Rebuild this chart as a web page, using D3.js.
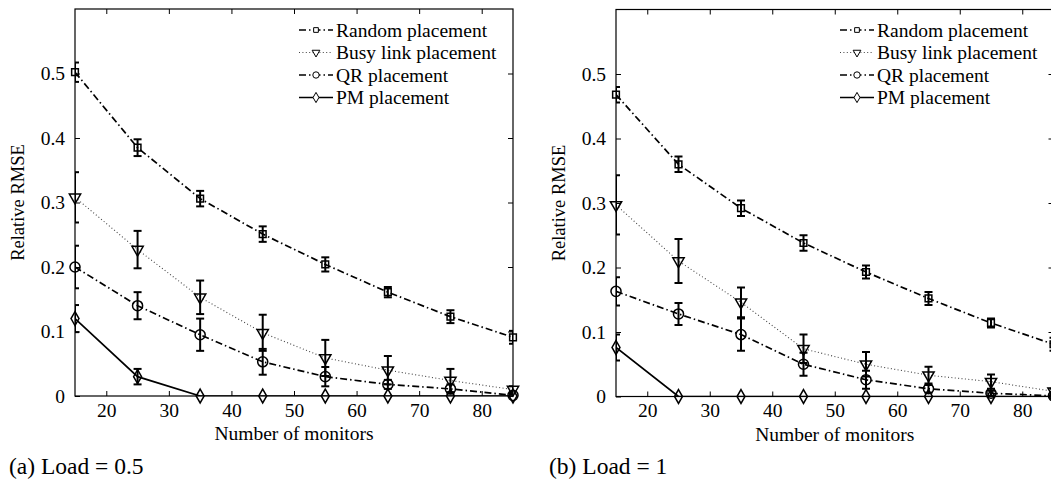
<!doctype html>
<html>
<head>
<meta charset="utf-8">
<style>
    body { margin: 0; background: #fff; }
    svg { display: block; }
    text { font-family: 'Liberation Serif', 'Times New Roman', serif; fill: #000; }
    .tick text { font-size: 19.5px; }
    .axis-label { font-size: 19.5px; }
    .axis-label.ylab { font-size: 18.5px; }
    .legend text { font-size: 19.5px; }
    .caption { font-size: 23.5px; }
</style>
<script src="https://d3js.org/d3.v7.min.js"></script>
</head>
<body>
<svg width="1051" height="481"></svg>
<script>
// x values shared by every series
const monitors = [15, 25, 35, 45, 55, 65, 75, 85];
const seriesNames = ['Random placement', 'Busy link placement', 'QR placement', 'PM placement'];
const xTicks = [20, 30, 40, 50, 60, 70, 80];
const yTicks = [0, 0.1, 0.2, 0.3, 0.4, 0.5];
const captions = ['(a) Load = 0.5', '(b) Load = 1'];

// (a) Load = 0.5
const randomA    = [0.502, 0.385, 0.306, 0.251, 0.204, 0.161, 0.123, 0.091];
const randomErrA = [0.015, 0.013, 0.012, 0.012, 0.011, 0.008, 0.010, 0.010];
const busyA      = [0.308, 0.227, 0.153, 0.098, 0.059, 0.040, 0.024, 0.010];
const busyErrA   = [0.039, 0.029, 0.026, 0.028, 0.028, 0.022, 0.018, 0.005];
const qrA        = [0.200, 0.140, 0.095, 0.053, 0.030, 0.018, 0.011, 0.001];
const qrErrA     = [0.033, 0.021, 0.025, 0.020, 0.015, 0.007, 0.007, 0.002];
const pmA        = [0.120, 0.030, 0, 0, 0, 0, 0, 0];
const pmErrA     = [0.021, 0.012, 0, 0, 0, 0, 0, 0];

// (b) Load = 1
const randomB    = [0.468, 0.360, 0.292, 0.238, 0.193, 0.152, 0.114, 0.081];
const randomErrB = [0.012, 0.012, 0.012, 0.012, 0.010, 0.010, 0.007, 0.010];
const busyB      = [0.297, 0.210, 0.146, 0.074, 0.050, 0.033, 0.023, 0.008];
const busyErrB   = [0.046, 0.034, 0.023, 0.022, 0.019, 0.013, 0.011, 0.004];
const qrB        = [0.163, 0.128, 0.096, 0.050, 0.026, 0.012, 0.005, 0.001];
const qrErrB     = [0.022, 0.017, 0.025, 0.018, 0.014, 0.006, 0.004, 0.001];
const pmB        = [0.076, 0, 0, 0, 0, 0, 0, 0];
const pmErrB     = [0.020, 0, 0, 0, 0, 0, 0, 0];

const styles = [
    { dash: '7,3,1.5,3', width: 1.7, color: '#000', symbol: d3.symbolSquare, size: 45, lsize: 22, rot: 0 },
    { dash: '1,2.4', width: 1.1, color: '#444', symbol: d3.symbolTriangle, size: 55, lsize: 26, rot: 180 },
    { dash: '7,3,1.5,3', width: 1.7, color: '#000', symbol: d3.symbolCircle, size: 80, lsize: 32, rot: 0 },
    { dash: null, width: 1.7, color: '#000', symbol: d3.symbolDiamond, size: 55, lsize: 30, rot: 0 }
];

const svg = d3.select('svg');

function drawPanel(id, values, errors, left, right, bottom, top, legendX, caption, captionX) {
    const x = d3.scaleLinear().domain([15, 85]).range([left, right]);
    const y = d3.scaleLinear().domain([0, 0.6]).range([bottom, top]);
    const g = svg.append('g');

    g.append('clipPath').attr('id', 'clip' + id)
        .append('rect')
        .attr('x', left).attr('y', top)
        .attr('width', right - left).attr('height', bottom - top);

    // axes with inward ticks on all four sides
    const xb = g.append('g').attr('transform', `translate(0,${bottom})`)
        .call(d3.axisBottom(x).tickValues(xTicks).tickSize(-5).tickSizeOuter(0).tickPadding(7));
    const xt = g.append('g').attr('transform', `translate(0,${top})`)
        .call(d3.axisTop(x).tickValues(xTicks).tickSize(-5).tickSizeOuter(0).tickFormat(''));
    const yl = g.append('g').attr('transform', `translate(${left},0)`)
        .call(d3.axisLeft(y).tickValues(yTicks).tickSize(-5).tickSizeOuter(0).tickPadding(10)
            .tickFormat(d => d === 0 ? '0' : d3.format('.1f')(d)));
    const yr = g.append('g').attr('transform', `translate(${right},0)`)
        .call(d3.axisRight(y).tickValues(yTicks).tickSize(-5).tickSizeOuter(0).tickFormat(''));
    [xb, xt, yl, yr].forEach(a => {
        a.select('.domain').remove();
        a.attr('font-family', null).attr('font-size', null);
        a.selectAll('line').attr('stroke', '#000');
    });

    g.append('rect')
        .attr('x', left).attr('y', top)
        .attr('width', right - left).attr('height', bottom - top)
        .attr('fill', 'none').attr('stroke', '#000').attr('stroke-width', 1.2);

    const line = d3.line().x((d, i) => x(monitors[i])).y(d => y(d));

    values.forEach((vals, s) => {
        const st = styles[s];
        g.append('path')
            .datum(vals)
            .attr('clip-path', `url(#clip${id})`)
            .attr('d', line)
            .attr('fill', 'none')
            .attr('stroke', st.color)
            .attr('stroke-width', st.width)
            .attr('stroke-dasharray', st.dash);

        // error bars
        const eb = g.append('g').attr('clip-path', `url(#clip${id})`)
            .attr('stroke', '#000').attr('stroke-width', 2);
        vals.forEach((v, i) => {
            const e = errors[s][i];
            if (e <= 0) return;
            const cx = x(monitors[i]);
            eb.append('line').attr('x1', cx).attr('x2', cx).attr('y1', y(v - e)).attr('y2', y(v + e));
            [v - e, v + e].forEach(c => {
                eb.append('line').attr('x1', cx - 4).attr('x2', cx + 4).attr('y1', y(c)).attr('y2', y(c));
            });
        });

        g.append('g').selectAll('path')
            .data(vals)
            .join('path')
            .attr('transform', (d, i) => `translate(${x(monitors[i])},${y(d)}) rotate(${st.rot})`)
            .attr('d', d3.symbol(st.symbol, st.size))
            .attr('fill', 'none')
            .attr('stroke', '#000')
            .attr('stroke-width', 1.5);
    });

    // legend
    const lg = g.append('g').attr('class', 'legend');
    seriesNames.forEach((name, s) => {
        const st = styles[s];
        const ly = 30 + s * 22.5;
        lg.append('line')
            .attr('x1', legendX).attr('x2', legendX + 34)
            .attr('y1', ly).attr('y2', ly)
            .attr('stroke', st.color)
            .attr('stroke-width', st.width)
            .attr('stroke-dasharray', st.dash);
        lg.append('path')
            .attr('transform', `translate(${legendX + 17},${ly}) rotate(${st.rot})`)
            .attr('d', d3.symbol(st.symbol, st.lsize))
            .attr('fill', '#fff')
            .attr('stroke', '#000')
            .attr('stroke-width', 1);
        lg.append('text')
            .attr('x', legendX + 37)
            .attr('y', ly + 6.5)
            .text(name);
    });

    g.append('text')
        .attr('class', 'axis-label ylab')
        .attr('transform', `translate(${left - 51},${(top + bottom) / 2}) rotate(-90)`)
        .attr('text-anchor', 'middle')
        .text('Relative RMSE');

    g.append('text')
        .attr('class', 'axis-label')
        .attr('x', (left + right) / 2)
        .attr('y', bottom + 44)
        .attr('text-anchor', 'middle')
        .text('Number of monitors');

    g.append('text')
        .attr('class', 'caption')
        .attr('x', captionX)
        .attr('y', 474)
        .text(caption);
}

drawPanel('a', [randomA, busyA, qrA, pmA], [randomErrA, busyErrA, qrErrA, pmErrA],
    75, 513, 396, 9, 299, captions[0], 9);
drawPanel('b', [randomB, busyB, qrB, pmB], [randomErrB, busyErrB, qrErrB, pmErrB],
    616, 1053.5, 396.5, 9.5, 840, captions[1], 549);
</script>
</body>
</html>
